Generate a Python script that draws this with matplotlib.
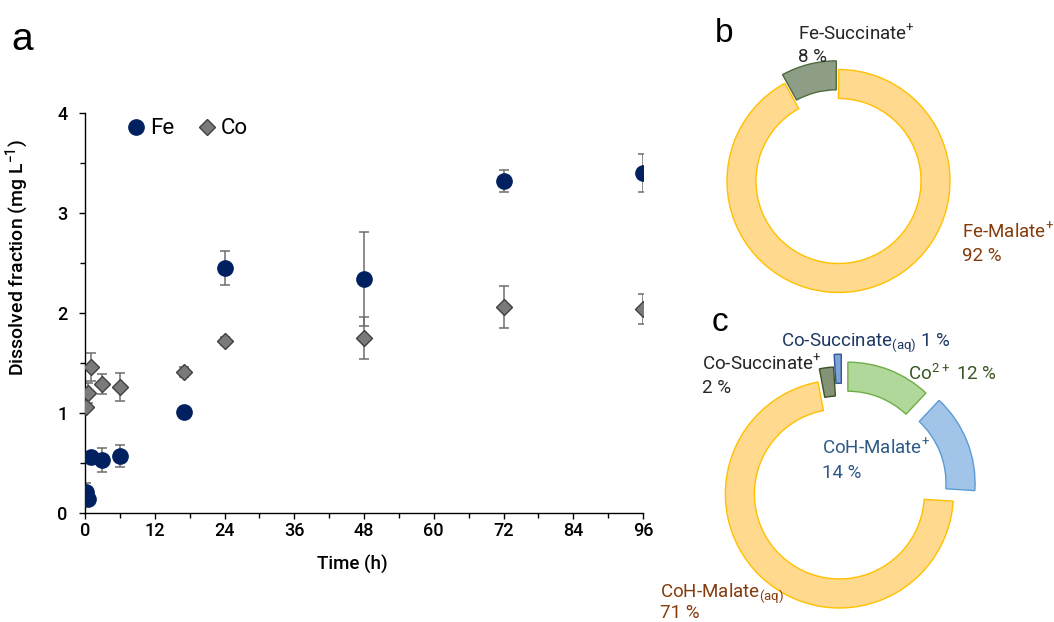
import numpy as np
import matplotlib
matplotlib.use("Agg")
import matplotlib.pyplot as plt
from matplotlib.ticker import MultipleLocator

plt.rcParams['font.family'] = ['Roboto', 'DejaVu Sans']

# dissolved Fe and Co over time (mg/L)
time_h = [0.17, 0.5, 1, 3, 6, 17, 24, 48, 72, 96]
fe_mean = [0.21, 0.14, 0.56, 0.53, 0.57, 1.01, 2.45, 2.335, 3.315, 3.40]
fe_err = [0.09, 0.04, 0.03, 0.12, 0.11, 0.02, 0.17, 0.47, 0.11, 0.19]
co_mean = [1.06, 1.20, 1.46, 1.29, 1.26, 1.41, 1.72, 1.75, 2.06, 2.04]
co_err = [0.03, 0.10, 0.14, 0.10, 0.14, 0.05, 0.04, 0.21, 0.21, 0.15]

# speciation (%)
fe_species = ["Fe-Malate+", "Fe-Succinate+"]
fe_pct = [92, 8]
co_species = ["Co2+", "CoH-Malate+", "CoH-Malate(aq)", "Co-Succinate+", "Co-Succinate(aq)"]
co_pct = [12, 14, 71, 2, 1]

W, H = 1054, 622
fig = plt.figure(figsize=(W / 100, H / 100), dpi=100)


def px(x, y):
    return x / W, 1 - y / H


## (a) time course
ax = fig.add_axes([85 / W, 1 - 512.5 / H, 558 / W, 400 / H])
ax.errorbar(time_h, fe_mean, yerr=fe_err, fmt='none', ecolor='#6e6e6e',
            elinewidth=1.1, capsize=3.3, capthick=1.1, zorder=2)
ax.errorbar(time_h, co_mean, yerr=co_err, fmt='none', ecolor='#6e6e6e',
            elinewidth=1.1, capsize=3.3, capthick=1.1, zorder=2)
ax.plot(time_h, fe_mean, 'o', color='#002060', ms=11, mec='#002060', label='Fe', zorder=3)
ax.plot(time_h, co_mean, 'D', color='#7a7a7a', ms=8, mec='#404040', mew=1, label='Co', zorder=3)

ax.set_xlim(0, 96)
ax.set_ylim(0, 4)
ax.xaxis.set_major_locator(MultipleLocator(12))
ax.xaxis.set_minor_locator(MultipleLocator(6))
ax.yaxis.set_major_locator(MultipleLocator(1))
ax.yaxis.set_minor_locator(MultipleLocator(0.5))
for s in ['top', 'right']:
    ax.spines[s].set_visible(False)
for s in ['left', 'bottom']:
    ax.spines[s].set_linewidth(1.0)
ax.tick_params(which='major', direction='out', length=4.5, width=1.0, labelsize=13)
ax.tick_params(which='minor', direction='out', length=3.5, width=1.0)
ax.tick_params(axis='y', pad=8)
ax.tick_params(axis='x', pad=2)
for t in ax.get_xticklabels() + ax.get_yticklabels():
    t.set_fontweight('medium')

ax.set_xlabel("Time (h)", fontsize=13.5, fontweight='medium')
ax.xaxis.set_label_coords((352 - 85) / 558, -0.105)
ax.set_ylabel("Dissolved fraction (mg L$^{\\mathregular{-1}}$)", fontsize=14, fontweight='medium')
ax.yaxis.set_label_coords(-0.095, (512.5 - 258) / 400)

ax.legend(loc='upper left', bbox_to_anchor=((128 - 85) / 558, 0.985), frameon=False, ncol=2,
          fontsize=16, handlelength=0.7, handletextpad=0.3, columnspacing=1.1,
          borderpad=0, borderaxespad=0)


def donut(cx, cy, r, vals, fills, edges, explode, width):
    s = 1.3
    a = fig.add_axes([(cx - r * s) / W, 1 - (cy + r * s) / H, 2 * r * s / W, 2 * r * s / H])
    wedges, _ = a.pie(vals, colors=fills, startangle=90, counterclock=False,
                      explode=explode, radius=1,
                      wedgeprops=dict(width=width, linewidth=1.0))
    for w, e in zip(wedges, edges):
        w.set_edgecolor(e)
    a.set_xlim(-s, s)
    a.set_ylim(-s, s)
    a.set_aspect('equal')
    a.axis('off')
    return a


## (b) Fe speciation
donut(838.5, 181, 111.5, fe_pct, ['#FFD98E', '#8E9E86'], ['#FFC000', '#4E6B3C'],
      [0, 0.08], 0.26)

## (c) Co speciation
donut(842, 491, 114, co_pct,
      ['#B0D89A', '#A2C4E8', '#FFD98E', '#849378', '#7FA3D6'],
      ['#70AD47', '#5B9BD5', '#FFC000', '#3B5323', '#2F5597'],
      [0.14, 0.18, 0.035, 0.09, 0.2], 0.255)


def label(x, y, s, c):
    fig.text(*px(x, y), s, color=c, fontsize=13.5, ha='left', va='baseline')


brown = '#843C0C'
dark = '#262626'
label(798, 39.5, "Fe-Succinate$^{\\mathregular{+}}$", dark)
label(798, 62.5, "8 %", dark)
label(962, 237.5, "Fe-Malate$^{\\mathregular{+}}$", brown)
label(962, 261, "92 %", brown)

label(781, 346, "Co-Succinate$_{\\mathregular{(aq)}}$ 1 %", '#1F3864')
label(702, 369.5, "Co-Succinate$^{\\mathregular{+}}$", dark)
label(702, 393, "2 %", dark)
label(908, 379.5, "Co$^{\\mathregular{2+}}$ 12 %", '#385723')
label(822, 454.5, "CoH-Malate$^{\\mathregular{+}}$", '#2E5A87')
label(822, 478, "14 %", '#2E5A87')
label(660, 597, "CoH-Malate$_{\\mathregular{(aq)}}$", brown)
label(660, 618, "71 %", brown)

# panel letters
for x, y, t, fs in [(11.5, 49.5, 'a', 28), (715, 41.5, 'b', 24), (712, 331.5, 'c', 24)]:
    fig.text(*px(x, y), t, fontsize=fs, family='Liberation Sans', ha='left', va='baseline')

fig.savefig('out.png', dpi=100)
